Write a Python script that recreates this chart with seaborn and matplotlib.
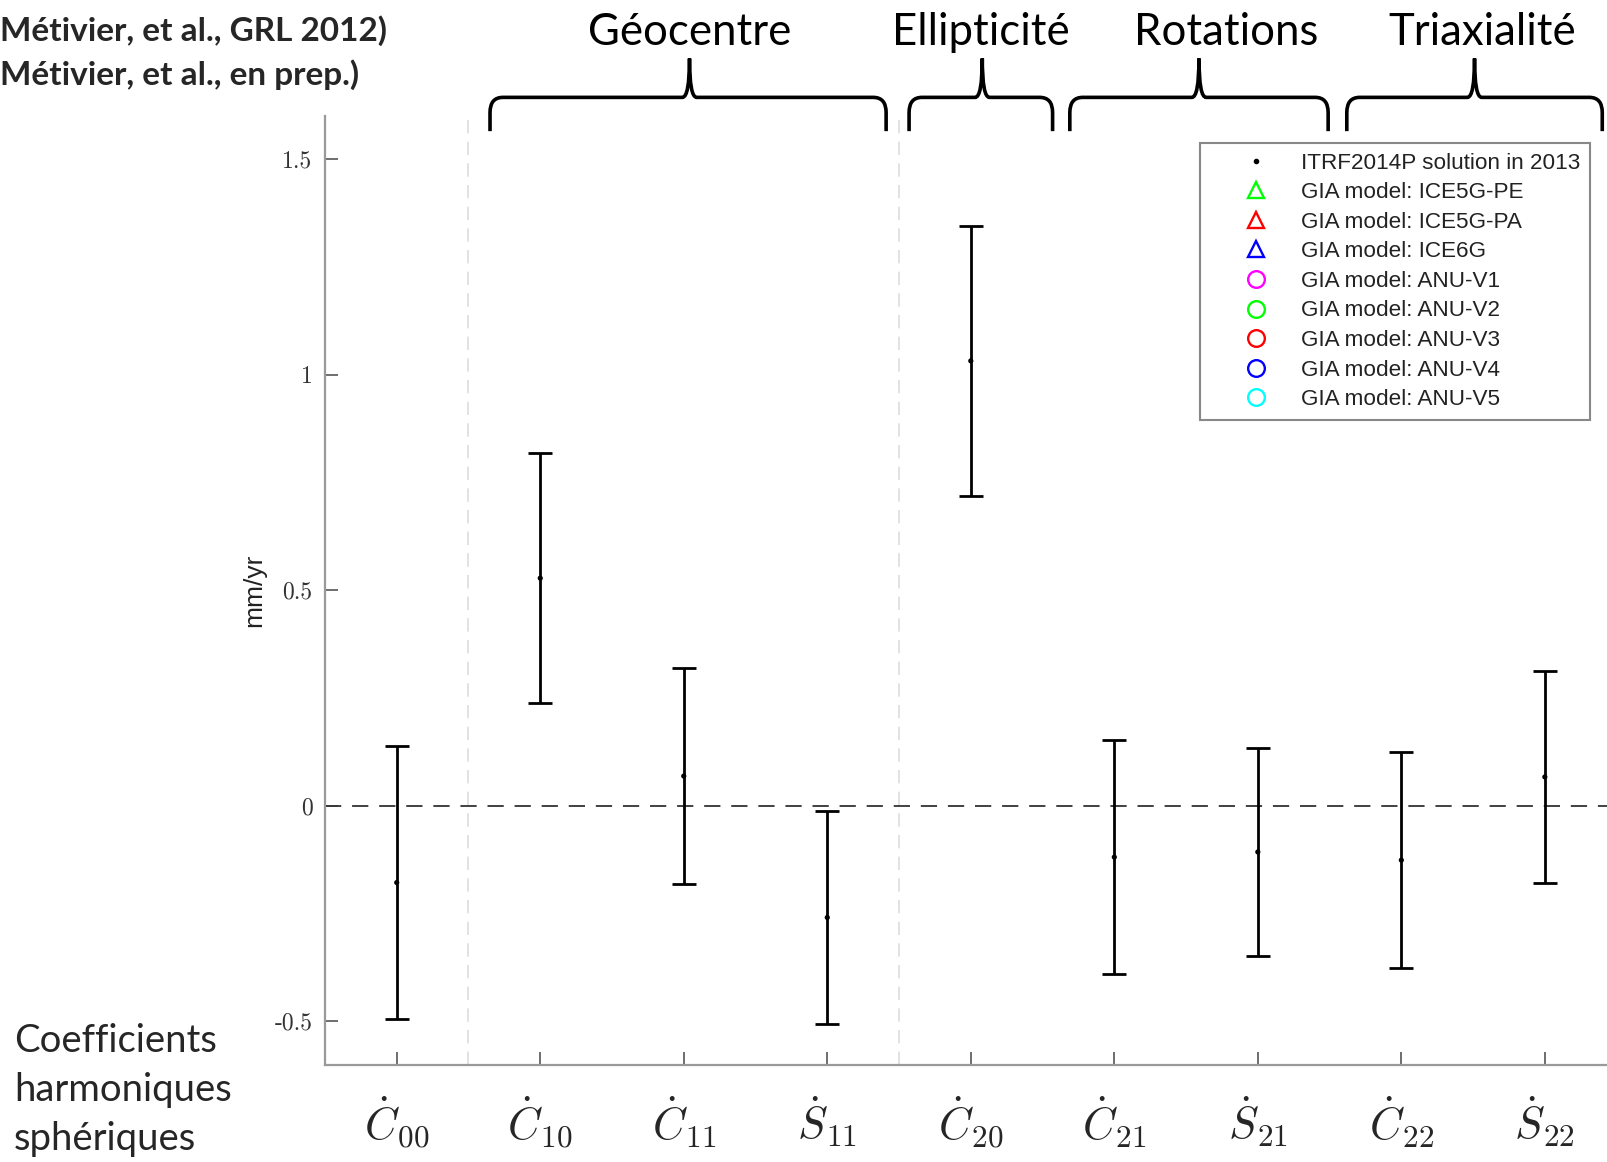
import numpy as np
import pandas as pd
import matplotlib.pyplot as plt
import seaborn as sns
from matplotlib.lines import Line2D
from matplotlib.path import Path
from matplotlib.patches import PathPatch
import matplotlib.transforms as mtransforms

# Données : taux de variation des coefficients harmoniques (mm/an)
coefs = ['C00', 'C10', 'C11', 'S11', 'C20', 'C21', 'S21', 'C22', 'S22']
tick_labels = [r'$\dot{C}_{00}$', r'$\dot{C}_{10}$', r'$\dot{C}_{11}$', r'$\dot{S}_{11}$',
               r'$\dot{C}_{20}$', r'$\dot{C}_{21}$', r'$\dot{S}_{21}$', r'$\dot{C}_{22}$',
               r'$\dot{S}_{22}$']
rates = [-0.178, 0.528, 0.069, -0.259, 1.032, -0.119, -0.107, -0.126, 0.067]
errors = [0.316, 0.290, 0.250, 0.246, 0.313, 0.271, 0.241, 0.251, 0.245]
ytick_values = [-0.5, 0, 0.5, 1, 1.5]
ytick_labels = ['-0.5', '0', '0.5', '1', '1.5']

# Groupes de coefficients (accolades en haut)
groups = ['Géocentre', 'Ellipticité', 'Rotations', 'Triaxialité']
group_left = [1.65, 4.57, 5.69, 7.62]
group_right = [4.41, 5.57, 7.49, 9.40]
group_cusp = [3.04, 5.08, 6.59, 8.51]
group_text_x = [3.04, 5.07, 6.78, 8.56]
separators = [1.5, 4.5]

# Légende
legend_labels = ['ITRF2014P solution in 2013', 'GIA model: ICE5G-PE', 'GIA model: ICE5G-PA',
                 'GIA model: ICE6G', 'GIA model: ANU-V1', 'GIA model: ANU-V2',
                 'GIA model: ANU-V3', 'GIA model: ANU-V4', 'GIA model: ANU-V5']
legend_markers = ['.', '^', '^', '^', 'o', 'o', 'o', 'o', 'o']
legend_colors = ['black', '#00ff00', '#ff0000', '#0000ff', '#ff00ff',
                 '#00ff00', '#ff0000', '#0000ff', '#00ffff']

df = pd.DataFrame({'coef': coefs, 'x': np.arange(1, len(coefs) + 1),
                   'rate': rates, 'err': errors})

# 1. Style
sns.set_theme(style='white')
plt.rcParams['mathtext.fontset'] = 'cm'
plt.rcParams['font.family'] = ['Liberation Sans', 'DejaVu Sans']

fig = plt.figure(figsize=(16.08, 11.62), dpi=100)
ax = fig.add_axes([0.2021, 0.0839, 0.7979, 0.8163])

# 2. Tracé
ax.axhline(0, color='#333333', lw=1.3, ls=(0, (9, 6)), zorder=1)
for s in separators:
    ax.axvline(s, color='#dddddd', lw=1.2, ls=(0, (8, 5)), zorder=0)

ax.errorbar(df['x'], df['rate'], yerr=df['err'], fmt='none', ecolor='black',
            elinewidth=2.0, capsize=8.5, capthick=2.0, zorder=3)
sns.scatterplot(data=df, x='x', y='rate', color='black', s=14, marker='o',
                edgecolor='none', ax=ax, zorder=4, legend=False)

ax.set_xlim(0.5, 9.44)
ax.set_ylim(-0.6, 1.6)
ax.set_xticks(df['x'])
ax.set_xticklabels(tick_labels, fontsize=32)
ax.set_yticks(ytick_values)
ax.set_yticklabels(ytick_labels, fontsize=17, family='cmr10')
ax.tick_params(axis='x', bottom=True, direction='in', length=9.5, width=1.2,
               color='#555555', pad=22)
ax.tick_params(axis='y', left=True, direction='in', length=9.5, width=1.2,
               color='#555555', pad=9, labelcolor='#333333')
ax.set_xlabel('')
ax.set_ylabel('mm/yr', fontsize=19, labelpad=6, color='#222222')
for side in ['top', 'right']:
    ax.spines[side].set_visible(False)
for side in ['left', 'bottom']:
    ax.spines[side].set_color('#999999')
    ax.spines[side].set_linewidth(1.6)

# 3. Légende
handles = []
for m, c in zip(legend_markers, legend_colors):
    if m == '.':
        handles.append(Line2D([], [], ls='none', marker='.', color=c, markersize=6))
    else:
        handles.append(Line2D([], [], ls='none', marker=m, markerfacecolor='none',
                              markeredgecolor=c, markeredgewidth=1.7, markersize=12))
leg = ax.legend(handles, legend_labels, loc='upper right', bbox_to_anchor=(0.986, 0.972),
                fontsize=16.2, frameon=True, fancybox=False, framealpha=1,
                edgecolor='#888888', handlelength=4.0, handletextpad=0.0,
                borderpad=0.45, labelspacing=0.38, borderaxespad=0.0, numpoints=1)
leg.get_frame().set_linewidth(1.5)
for t in leg.get_texts():
    t.set_color('#222222')

# 4. Accolades et titres de groupes
trans = mtransforms.blended_transform_factory(ax.transData, ax.transAxes)
yb, yh, yt = 0.984, 1.0196, 1.0606
rx, ry, cx = 0.09, 0.016, 0.05
for xl, xr, xc in zip(group_left, group_right, group_cusp):
    verts = [(xl, yb), (xl, yh - ry), (xl, yh), (xl + rx, yh),
             (xc - cx, yh), (xc, yh), (xc, yt),
             (xc, yh), (xc + cx, yh),
             (xr - rx, yh), (xr, yh), (xr, yh - ry), (xr, yb)]
    codes = [Path.MOVETO, Path.LINETO, Path.CURVE3, Path.CURVE3,
             Path.LINETO, Path.CURVE3, Path.CURVE3,
             Path.CURVE3, Path.CURVE3,
             Path.LINETO, Path.CURVE3, Path.CURVE3, Path.LINETO]
    patch = PathPatch(Path(verts, codes), transform=trans, fill=False,
                      edgecolor='black', lw=2.6, clip_on=False, capstyle='butt')
    ax.add_patch(patch)
for name, xt in zip(groups, group_text_x):
    ax.text(xt, 1.0885, name, transform=trans, ha='center', va='center',
            fontsize=31.5, family=['Lato', 'DejaVu Sans'], color='black')

# 5. Textes hors du graphique
fig.text(0.0, 0.9733, 'Métivier, et al., GRL 2012)', ha='left', va='center',
         fontsize=24, fontweight='bold', family=['Lato', 'DejaVu Sans'])
fig.text(0.0, 0.9355, 'Métivier, et al., en prep.)', ha='left', va='center',
         fontsize=24, fontweight='bold', family=['Lato', 'DejaVu Sans'])
fig.text(14 / 1608, 1 - 1090 / 1162, 'Coefficients\nharmoniques\nsphériques',
         ha='left', va='center', fontsize=27.5, linespacing=1.45,
         family=['Lato', 'DejaVu Sans'])

fig.savefig('out.png', dpi=100)
